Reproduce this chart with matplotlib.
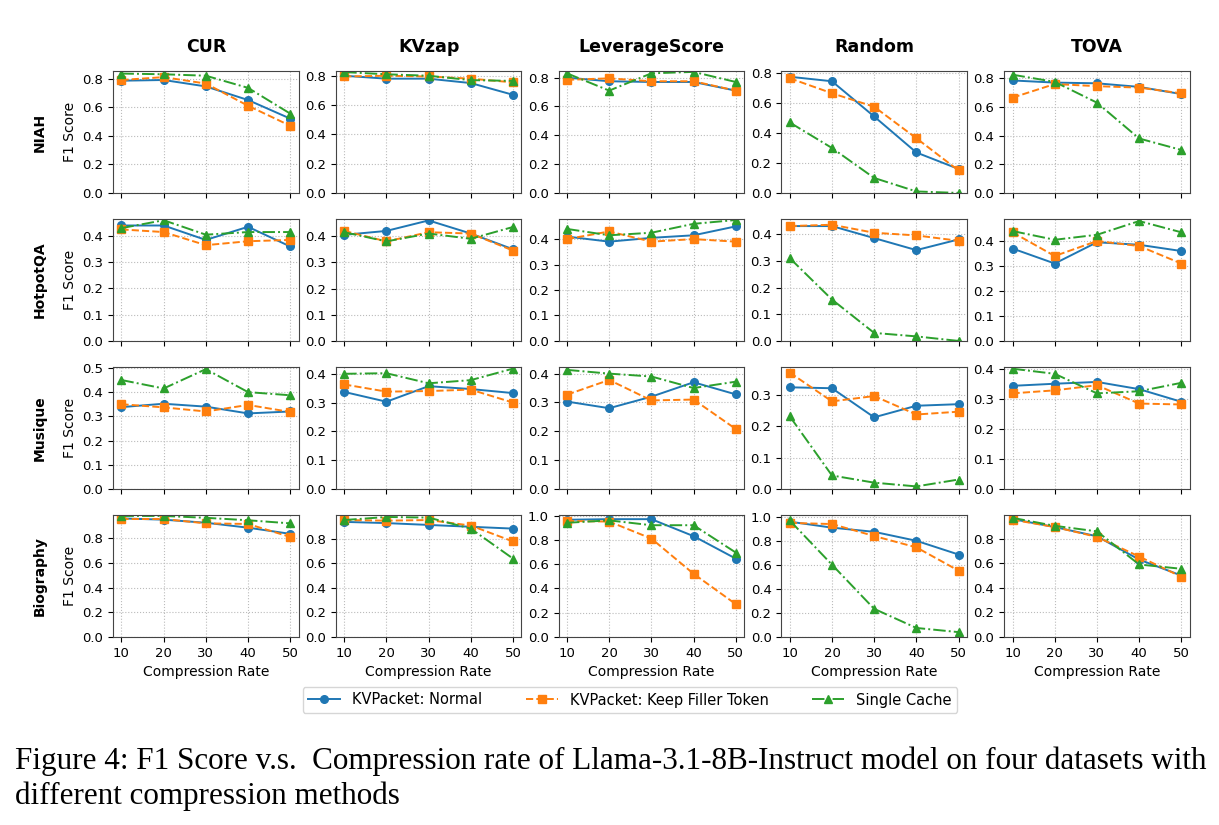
import numpy as np
import matplotlib
matplotlib.use("Agg")
import matplotlib.pyplot as plt
from matplotlib.ticker import MultipleLocator

rates = [10, 20, 30, 40, 50]
methods = ["CUR", "KVzap", "LeverageScore", "Random", "TOVA"]
datasets = ["NIAH", "HotpotQA", "Musique", "Biography"]
series_names = ["KVPacket: Normal", "KVPacket: Keep Filler Token", "Single Cache"]
row_steps = [0.2, 0.1, 0.1, 0.2]

# NIAH
niah_normal = {
    "CUR": [0.785, 0.79, 0.745, 0.65, 0.52],
    "KVzap": [0.80, 0.78, 0.78, 0.75, 0.67],
    "LeverageScore": [0.80, 0.775, 0.77, 0.77, 0.71],
    "Random": [0.775, 0.745, 0.51, 0.27, 0.16],
    "TOVA": [0.785, 0.77, 0.765, 0.74, 0.69],
}
niah_filler = {
    "CUR": [0.79, 0.81, 0.765, 0.61, 0.47],
    "KVzap": [0.795, 0.80, 0.795, 0.78, 0.755],
    "LeverageScore": [0.785, 0.795, 0.775, 0.775, 0.71],
    "Random": [0.765, 0.665, 0.575, 0.365, 0.15],
    "TOVA": [0.665, 0.76, 0.745, 0.735, 0.695],
}
niah_single = {
    "CUR": [0.835, 0.83, 0.82, 0.735, 0.555],
    "KVzap": [0.825, 0.81, 0.80, 0.77, 0.765],
    "LeverageScore": [0.83, 0.71, 0.83, 0.84, 0.77],
    "Random": [0.47, 0.30, 0.10, 0.01, 0.0],
    "TOVA": [0.825, 0.775, 0.63, 0.38, 0.30],
}

# HotpotQA
hotpot_normal = {
    "CUR": [0.44, 0.44, 0.385, 0.435, 0.36],
    "KVzap": [0.405, 0.42, 0.46, 0.41, 0.35],
    "LeverageScore": [0.41, 0.39, 0.405, 0.415, 0.45],
    "Random": [0.43, 0.43, 0.385, 0.34, 0.38],
    "TOVA": [0.37, 0.31, 0.395, 0.385, 0.36],
}
hotpot_filler = {
    "CUR": [0.425, 0.415, 0.365, 0.38, 0.385],
    "KVzap": [0.42, 0.38, 0.415, 0.41, 0.345],
    "LeverageScore": [0.40, 0.43, 0.39, 0.40, 0.39],
    "Random": [0.43, 0.435, 0.405, 0.395, 0.375],
    "TOVA": [0.435, 0.34, 0.40, 0.38, 0.31],
}
hotpot_single = {
    "CUR": [0.43, 0.46, 0.405, 0.415, 0.415],
    "KVzap": [0.415, 0.38, 0.41, 0.39, 0.435],
    "LeverageScore": [0.44, 0.415, 0.425, 0.46, 0.475],
    "Random": [0.31, 0.155, 0.03, 0.017, 0.0],
    "TOVA": [0.44, 0.405, 0.425, 0.48, 0.435],
}

# Musique
musique_normal = {
    "CUR": [0.338, 0.352, 0.34, 0.312, 0.32],
    "KVzap": [0.337, 0.303, 0.357, 0.347, 0.333],
    "LeverageScore": [0.303, 0.28, 0.32, 0.37, 0.328],
    "Random": [0.325, 0.322, 0.229, 0.266, 0.271],
    "TOVA": [0.343, 0.35, 0.356, 0.332, 0.29],
}
musique_filler = {
    "CUR": [0.35, 0.337, 0.32, 0.347, 0.318],
    "KVzap": [0.363, 0.338, 0.34, 0.345, 0.30],
    "LeverageScore": [0.327, 0.378, 0.307, 0.31, 0.208],
    "Random": [0.372, 0.28, 0.297, 0.238, 0.247],
    "TOVA": [0.318, 0.328, 0.345, 0.284, 0.281],
}
musique_single = {
    "CUR": [0.45, 0.415, 0.495, 0.40, 0.387],
    "KVzap": [0.40, 0.402, 0.367, 0.378, 0.418],
    "LeverageScore": [0.413, 0.40, 0.39, 0.35, 0.372],
    "Random": [0.232, 0.043, 0.02, 0.008, 0.03],
    "TOVA": [0.40, 0.383, 0.318, 0.325, 0.353],
}

# Biography
bio_normal = {
    "CUR": [0.96, 0.95, 0.925, 0.885, 0.835],
    "KVzap": [0.94, 0.93, 0.915, 0.90, 0.885],
    "LeverageScore": [0.965, 0.97, 0.97, 0.83, 0.645],
    "Random": [0.965, 0.915, 0.88, 0.805, 0.69],
    "TOVA": [0.96, 0.895, 0.82, 0.63, 0.50],
}
bio_filler = {
    "CUR": [0.955, 0.955, 0.92, 0.915, 0.81],
    "KVzap": [0.955, 0.95, 0.955, 0.91, 0.78],
    "LeverageScore": [0.955, 0.95, 0.81, 0.52, 0.27],
    "Random": [0.955, 0.945, 0.845, 0.75, 0.555],
    "TOVA": [0.955, 0.895, 0.815, 0.655, 0.49],
}
bio_single = {
    "CUR": [0.98, 0.98, 0.965, 0.945, 0.92],
    "KVzap": [0.955, 0.98, 0.975, 0.885, 0.64],
    "LeverageScore": [0.94, 0.96, 0.92, 0.92, 0.695],
    "Random": [0.975, 0.605, 0.235, 0.075, 0.04],
    "TOVA": [0.97, 0.905, 0.86, 0.59, 0.555],
}

table = {
    "NIAH": (niah_normal, niah_filler, niah_single),
    "HotpotQA": (hotpot_normal, hotpot_filler, hotpot_single),
    "Musique": (musique_normal, musique_filler, musique_single),
    "Biography": (bio_normal, bio_filler, bio_single),
}

styles = [
    dict(color="#1f77b4", linestyle="-", marker="o"),
    dict(color="#ff7f0e", linestyle="--", marker="s"),
    dict(color="#2ca02c", linestyle="-.", marker="^"),
]

fig, axes = plt.subplots(4, 5, figsize=(12.19, 8.25), dpi=100)
fig.subplots_adjust(left=0.0927, right=0.976, top=0.914, bottom=0.228,
                    wspace=0.2, hspace=0.213)

for i, ds in enumerate(datasets):
    for j, m in enumerate(methods):
        ax = axes[i, j]
        for k, st in enumerate(styles):
            ax.plot(rates, table[ds][k][m], label=series_names[k],
                    linewidth=1.4, markersize=5.5, **st)
        ax.set_ylim(bottom=0)
        ax.set_xticks(rates)
        ax.yaxis.set_major_locator(MultipleLocator(row_steps[i]))
        ax.grid(True, linestyle=":", color="#bbbbbb", linewidth=0.8)
        ax.tick_params(labelsize=9.5)
        for sp in ax.spines.values():
            sp.set_color("#444444")
        if i == 0:
            ax.set_title(m, fontsize=12.5, fontweight="bold", pad=14)
        if j == 0:
            ax.set_ylabel("F1 Score", fontsize=10)
        if i == 3:
            ax.set_xlabel("Compression Rate", fontsize=10)
        else:
            ax.tick_params(labelbottom=False)
    pos = axes[i, 0].get_position()
    fig.text(40 / 1219, (pos.y0 + pos.y1) / 2, ds, rotation=90,
             fontsize=10, fontweight="bold", ha="center", va="center")

handles, labels = axes[0, 0].get_legend_handles_labels()
fig.legend(handles, labels, loc="center", ncol=3, fontsize=10.5,
           bbox_to_anchor=(630 / 1219, 1 - 700 / 825), frameon=True,
           columnspacing=3.0, handlelength=2.2)

fig.text(15 / 1219, 1 - 761 / 825,
         "Figure 4: F1 Score v.s.  Compression rate of Llama-3.1-8B-Instruct model on four datasets with",
         fontsize=22.4, family="Liberation Serif", va="center", ha="left")
fig.text(15 / 1219, 1 - 796 / 825, "different compression methods",
         fontsize=22.4, family="Liberation Serif", va="center", ha="left")

fig.savefig("out.png", dpi=100)
